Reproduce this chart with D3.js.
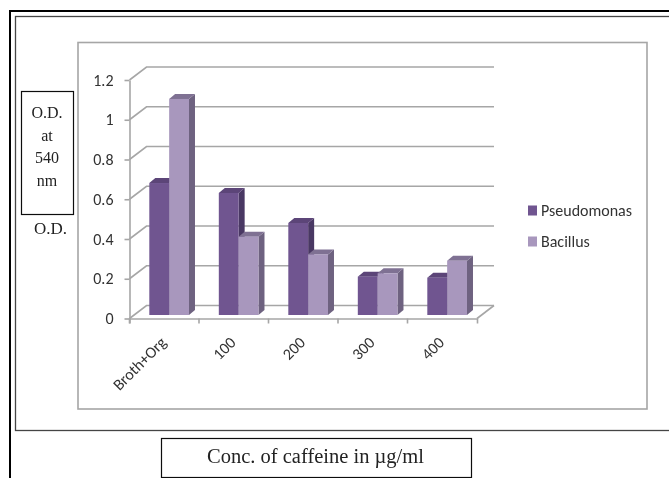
<!DOCTYPE html>
<html>
<head>
<meta charset="utf-8">
<script src="https://cdn.jsdelivr.net/npm/d3@7"></script>
<style>
html, body { margin: 0; padding: 0; background: #fff; }
svg { display: block; }
</style>
</head>
<body>
<div id="chart"></div>
<script>
var categories = ["Broth+Org", "100", "200", "300", "400"];
var seriesNames = ["Pseudomonas", "Bacillus"];
var pseudomonas = [0.664, 0.614, 0.463, 0.193, 0.188];
var bacillus = [1.087, 0.394, 0.305, 0.21, 0.273];
var yTicks = [0, 0.2, 0.4, 0.6, 0.8, 1, 1.2];
var yBoxLines = ["O.D.", "at", "540", "nm"];

function init() {
	var w = 669;
	var h = 478;
	var sans = "Carlito, 'Open Sans', 'Noto Sans', sans-serif";
	var serif = "'Liberation Serif', serif";

	// face colours for each series: front, side, top
	var faces = [
		{front: "#6f5590", side: "#4a3763", top: "#5b4578"},
		{front: "#a897bd", side: "#6e6280", top: "#7f7193"}
	];

	var x0 = 129.5, x1 = 477, y0 = 318.5, y1 = 80;
	var wallDx = 17, wallDy = -13;

	var svg = d3.select("#chart")
		.append("svg")
		.attr("width", w)
		.attr("height", h);

	// the source is a soft screenshot, so take the edge off everything
	svg.append("defs").append("filter").attr("id", "soft")
		.attr("x", 0).attr("y", 0).attr("width", 1).attr("height", 1)
		.attr("filterUnits", "objectBoundingBox")
		.append("feGaussianBlur").attr("stdDeviation", 0.35);

	var root = svg.append("g").attr("filter", "url(#soft)");
	root.append("rect").attr("width", w).attr("height", h).attr("fill", "#fff");

	// page frames
	root.append("rect").attr("x", 10).attr("y", 11).attr("width", 670).attr("height", 480)
		.attr("fill", "none").attr("stroke", "#000").attr("stroke-width", 2);
	root.append("rect").attr("x", 15.5).attr("y", 16.5).attr("width", 660).attr("height", 414)
		.attr("fill", "none").attr("stroke", "#444").attr("stroke-width", 1.3);

	// chart area
	root.append("rect").attr("x", 78).attr("y", 42.5).attr("width", 569).attr("height", 366.5)
		.attr("fill", "#fff").attr("stroke", "#a6a6a6").attr("stroke-width", 1.6);

	var xScale = d3.scaleBand()
		.domain(categories)
		.range([x0, x1]);

	var yScale = d3.scaleLinear()
		.domain([0, 1.2])
		.range([y0, y1]);

	// back wall gridlines and the slanted bit on the side wall
	var grid = root.append("g").attr("fill", "none").attr("stroke", "#a6a6a6").attr("stroke-width", 1.6);
	yTicks.forEach(function(t) {
		grid.append("path")
			.attr("d", d3.line()([
				[x0, yScale(t)],
				[x0 + wallDx, yScale(t) + wallDy],
				[x1 + wallDx, yScale(t) + wallDy]
			]));
	});
	grid.append("path")
		.attr("d", d3.line()([[x1, y0], [x1 + wallDx, y0 + wallDy]]));

	// bars stand a little way back from the front edge
	var barX = xScale.bandwidth() * 0.285;
	var barW = xScale.bandwidth() * 0.2855;
	var barBase = -3.5;
	var depthX = 6, depthY = -5;

	var line = d3.line();

	function drawBar(g, left, value, c) {
		var right = left + barW;
		var bottom = yScale(0) + barBase;
		var top = bottom - (yScale(0) - yScale(value));

		g.append("path").attr("fill", c.side)
			.attr("d", line([[right, bottom], [right + depthX, bottom + depthY], [right + depthX, top + depthY], [right, top]]) + "Z");
		g.append("path").attr("fill", c.top)
			.attr("d", line([[left, top], [left + depthX, top + depthY], [right + depthX, top + depthY], [right, top]]) + "Z");
		g.append("rect").attr("x", left).attr("y", top)
			.attr("width", barW).attr("height", bottom - top)
			.attr("fill", c.front);
	}

	var bars = root.append("g");
	categories.forEach(function(cat, i) {
		var start = xScale(cat) + barX;
		drawBar(bars, start, pseudomonas[i], faces[0]);
		drawBar(bars, start + barW, bacillus[i], faces[1]);
	});

	// axes
	var yAxis = d3.axisLeft(yScale)
		.tickValues(yTicks)
		.tickSize(5)
		.tickSizeOuter(0)
		.tickFormat(function(d) { return d; });

	var gy = root.append("g").attr("transform", "translate(" + x0 + ",0)").call(yAxis);
	gy.select(".domain").attr("stroke", "#a6a6a6").attr("stroke-width", 1.6);
	gy.selectAll(".tick line").attr("stroke", "#a6a6a6").attr("stroke-width", 1.6);
	gy.selectAll("text")
		.attr("x", -16)
		.attr("font-family", sans).attr("font-size", 16).attr("fill", "#333");

	var xAxis = d3.axisBottom(xScale)
		.tickSize(5)
		.tickSizeOuter(5);

	var gx = root.append("g").attr("transform", "translate(0," + y0 + ")").call(xAxis);
	gx.select(".domain").attr("stroke", "#a6a6a6").attr("stroke-width", 1.6);
	gx.selectAll(".tick line")
		.attr("stroke", "#a6a6a6").attr("stroke-width", 1.6)
		.attr("transform", "translate(" + (-xScale.bandwidth() / 2) + ",0)");
	gx.selectAll("text")
		.attr("font-family", sans).attr("font-size", 16).attr("fill", "#333")
		.attr("text-anchor", "end")
		.attr("x", 0).attr("y", 0).attr("dy", 0)
		.attr("transform", "translate(3,25) rotate(-45)");

	// legend
	var legend = root.append("g");
	seriesNames.forEach(function(name, i) {
		var ly = 210.5 + i * 31;
		legend.append("rect").attr("x", 528).attr("y", ly - 5).attr("width", 9).attr("height", 10)
			.attr("fill", faces[i].front);
		legend.append("text").attr("x", 541).attr("y", ly + 5.5)
			.attr("font-family", sans).attr("font-size", 16).attr("fill", "#333")
			.text(name);
	});

	// pasted text boxes
	root.append("rect").attr("x", 21.5).attr("y", 91.5).attr("width", 52).attr("height", 123)
		.attr("fill", "#fff").attr("stroke", "#111").attr("stroke-width", 1.2);
	yBoxLines.forEach(function(s, i) {
		root.append("text").attr("x", 47).attr("y", 118 + i * 22.7)
			.attr("text-anchor", "middle")
			.attr("font-family", serif).attr("font-size", 16).attr("fill", "#222")
			.text(s);
	});
	root.append("text").attr("x", 50.5).attr("y", 234)
		.attr("text-anchor", "middle")
		.attr("font-family", serif).attr("font-size", 17).attr("fill", "#222")
		.text("O.D.");

	root.append("rect").attr("x", 161.5).attr("y", 438.5).attr("width", 310).attr("height", 39)
		.attr("fill", "#fff").attr("stroke", "#111").attr("stroke-width", 1.2);
	root.append("text").attr("x", 207).attr("y", 463)
		.attr("font-family", serif).attr("font-size", 20.5).attr("fill", "#222")
		.text("Conc. of caffeine in µg/ml");
}

window.onload = init;
</script>
</body>
</html>
